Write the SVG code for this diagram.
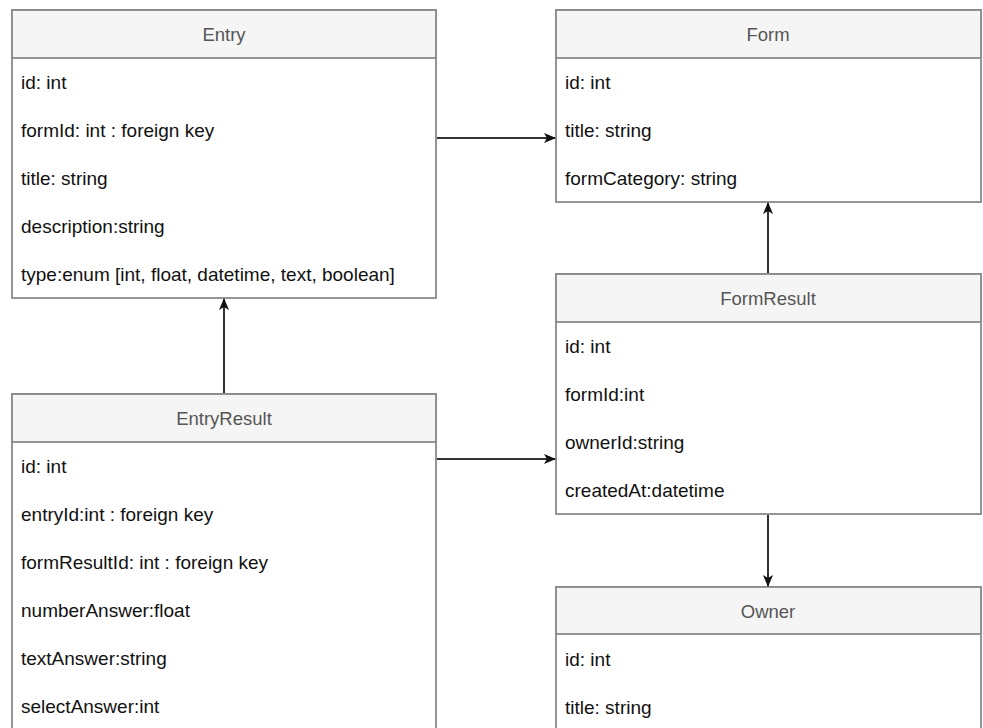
<svg xmlns="http://www.w3.org/2000/svg" width="983" height="728" viewBox="0 0 983 728">
  <style>
    .box { fill: #ffffff; stroke: #8a8a8a; stroke-width: 1.8; }
    .head { fill: #f5f5f5; stroke: #8a8a8a; stroke-width: 1.8; }
    .title { font-family: "Liberation Sans", Arial, sans-serif; font-size: 18.5px; fill: #555555; text-anchor: middle; dominant-baseline: central; }
    .field { font-family: "Liberation Sans", Arial, sans-serif; font-size: 19px; fill: #111111; dominant-baseline: central; }
    .link { fill: none; stroke: #333333; stroke-width: 2; }
  </style>
  <defs>
    <marker id="arrow" viewBox="0 0 12 10" refX="11" refY="5" markerWidth="12" markerHeight="10" markerUnits="userSpaceOnUse" orient="auto">
      <path d="M0,0 L12,5 L0,10 L3,5 Z" fill="#111111"/>
    </marker>
  </defs>
  <rect width="983" height="728" fill="#ffffff"/>

  <g id="Entry">
    <rect class="box" x="12" y="10" width="424" height="288"/>
    <rect class="head" x="12" y="10" width="424" height="48"/>
    <text class="title" x="224" y="34">Entry</text>
    <text class="field" x="21" y="82">id: int</text>
    <text class="field" x="21" y="130">formId: int : foreign key</text>
    <text class="field" x="21" y="178">title: string</text>
    <text class="field" x="21" y="226">description:string</text>
    <text class="field" x="21" y="274">type:enum [int, float, datetime, text, boolean]</text>
  </g>

  <g id="Form">
    <rect class="box" x="556" y="10" width="425" height="192"/>
    <rect class="head" x="556" y="10" width="425" height="48"/>
    <text class="title" x="768" y="34">Form</text>
    <text class="field" x="565" y="82">id: int</text>
    <text class="field" x="565" y="130">title: string</text>
    <text class="field" x="565" y="178">formCategory: string</text>
  </g>

  <g id="FormResult">
    <rect class="box" x="556" y="274" width="425" height="240"/>
    <rect class="head" x="556" y="274" width="425" height="48"/>
    <text class="title" x="768" y="298">FormResult</text>
    <text class="field" x="565" y="346">id: int</text>
    <text class="field" x="565" y="394">formId:int</text>
    <text class="field" x="565" y="442">ownerId:string</text>
    <text class="field" x="565" y="490">createdAt:datetime</text>
  </g>

  <g id="EntryResult">
    <rect class="box" x="12" y="394" width="424" height="344"/>
    <rect class="head" x="12" y="394" width="424" height="48"/>
    <text class="title" x="224" y="418">EntryResult</text>
    <text class="field" x="21" y="466">id: int</text>
    <text class="field" x="21" y="514">entryId:int : foreign key</text>
    <text class="field" x="21" y="562">formResultId: int : foreign key</text>
    <text class="field" x="21" y="610">numberAnswer:float</text>
    <text class="field" x="21" y="658">textAnswer:string</text>
    <text class="field" x="21" y="706">selectAnswer:int</text>
  </g>

  <g id="Owner">
    <rect class="box" x="556" y="587" width="425" height="151"/>
    <rect class="head" x="556" y="587" width="425" height="47"/>
    <text class="title" x="768" y="611">Owner</text>
    <text class="field" x="565" y="659">id: int</text>
    <text class="field" x="565" y="707">title: string</text>
  </g>

  <g id="connectors">
    <line class="link" x1="437" y1="138" x2="555" y2="138" marker-end="url(#arrow)"/>
    <line class="link" x1="224" y1="393" x2="224" y2="299" marker-end="url(#arrow)"/>
    <line class="link" x1="437" y1="459" x2="555" y2="459" marker-end="url(#arrow)"/>
    <line class="link" x1="768" y1="273" x2="768" y2="203" marker-end="url(#arrow)"/>
    <line class="link" x1="768" y1="515" x2="768" y2="586" marker-end="url(#arrow)"/>
  </g>
</svg>
